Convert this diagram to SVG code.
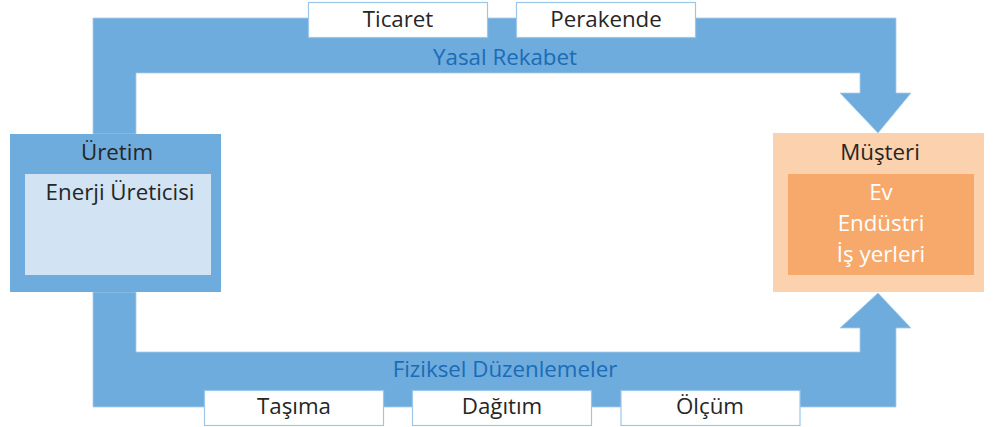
<svg xmlns="http://www.w3.org/2000/svg" width="1004" height="427" viewBox="0 0 1004 427">
<style>
.band{fill:#6eacdd;stroke:#a9cdec;stroke-width:0.8}
.tag{fill:#ffffff;stroke:#9cc6ea;stroke-width:1.2}
.t{font-family:"Open Sans","Noto Sans",sans-serif;font-size:22.3px;fill:#262626;text-anchor:middle}
.bl{fill:#1b6bb6}
.w{fill:#ffffff}
</style>
<rect width="1004" height="427" fill="#ffffff"/>
<g id="connectors">
<g id="yasal-rekabet">
<polygon class="band" points="93,134 93,18 896,18 896,93 911,93 878,133 840,93 860,93 860,73 136,73 136,134"/>
<text class="t bl" x="505" y="65">Yasal Rekabet</text>
</g>
<g id="fiziksel-duzenlemeler">
<polygon class="band" points="93,292 93,407 896,407 896,328 911,328 878,293 840,328 860,328 860,352 136,352 136,292"/>
<text class="t bl" x="505" y="377">Fiziksel Düzenlemeler</text>
</g>
</g>
<g id="ticaret"><rect class="tag" x="308.5" y="2.5" width="179" height="35"/><text class="t" x="398" y="27">Ticaret</text></g>
<g id="perakende"><rect class="tag" x="516.5" y="2.5" width="179" height="35"/><text class="t" x="606" y="27">Perakende</text></g>
<g id="tasima"><rect class="tag" x="204.5" y="390.5" width="179" height="35"/><text class="t" x="294" y="414">Taşıma</text></g>
<g id="dagitim"><rect class="tag" x="412.5" y="390.5" width="179" height="35"/><text class="t" x="502" y="414">Dağıtım</text></g>
<g id="olcum"><rect class="tag" x="621" y="390.5" width="179" height="35"/><text class="t" x="710" y="414">Ölçüm</text></g>
<g id="uretim">
<rect x="10" y="134" width="211" height="158" fill="#6eacdd"/>
<text class="t" x="117" y="160">Üretim</text>
<rect x="25" y="174" width="186" height="101" fill="#d2e3f3"/>
<text class="t" x="120" y="200">Enerji Üreticisi</text>
</g>
<g id="musteri">
<rect x="773" y="133" width="211" height="159" fill="#fcd1ae"/>
<text class="t" x="880" y="160">Müşteri</text>
<rect x="788" y="174" width="186" height="101" fill="#f7a96b"/>
<text class="t w" x="881" y="200">Ev</text>
<text class="t w" x="881" y="231">Endüstri</text>
<text class="t w" x="881" y="262">İş yerleri</text>
</g>
</svg>
